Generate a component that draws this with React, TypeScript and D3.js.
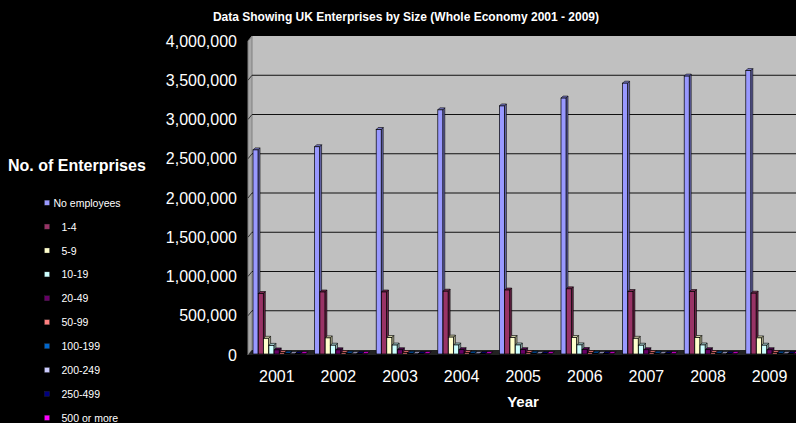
import React from "react";
import * as d3 from "d3";

const years = ["2001", "2002", "2003", "2004", "2005", "2006", "2007", "2008", "2009"];
const seriesNames = ["No employees", "1-4", "5-9", "10-19", "20-49", "50-99", "100-199", "200-249", "250-499", "500 or more"];
const seriesColors = ["#9999FF", "#993366", "#FFFFCC", "#CCFFFF", "#660066", "#FF8080", "#0066CC", "#CCCCFF", "#000080", "#FF00FF"];

const noEmployees = [2600000, 2640000, 2860000, 3110000, 3160000, 3260000, 3450000, 3540000, 3610000];
const size1to4 = [770000, 790000, 790000, 800000, 815000, 830000, 795000, 795000, 775000];
const size5to9 = [200000, 205000, 210000, 215000, 210000, 210000, 200000, 210000, 205000];
const size10to19 = [110000, 112000, 114000, 115000, 115000, 116000, 112000, 115000, 112000];
const size20to49 = [52000, 53000, 54000, 55000, 55000, 56000, 54000, 55000, 54000];
const size50to99 = [18000, 18000, 18500, 18500, 19000, 19000, 18500, 19000, 18500];
const size100to199 = [9000, 9000, 9200, 9300, 9500, 9500, 9300, 9500, 9300];
const size200to249 = [2200, 2200, 2300, 2300, 2300, 2400, 2300, 2400, 2300];
const size250to499 = [4500, 4500, 4600, 4600, 4700, 4700, 4600, 4700, 4600];
const size500plus = [3700, 3700, 3800, 3800, 3800, 3900, 3800, 3900, 3800];

const seriesValues = [noEmployees, size1to4, size5to9, size10to19, size20to49, size50to99, size100to199, size200to249, size250to499, size500plus];
const yTicks = [0, 500000, 1000000, 1500000, 2000000, 2500000, 3000000, 3500000, 4000000];

const W = 796, H = 423;
const DX = 4, DY = -5; // 3D depth offset of back wall
const FONT = "Arial, 'Liberation Sans', sans-serif";

export default function App() {
  const y = d3.scaleLinear().domain([0, 4000000]).range([355, 41]);
  const x = d3.scaleBand<string>().domain(years).range([246, 246 + 9 * 61.6]).padding(0);
  const inner = d3.scaleBand<string>().domain(seriesNames).range([0, 53]).padding(0);
  const fmt = d3.format(",");

  const left = 248; // front left of plot
  const right = 800;
  const bw = inner.bandwidth();
  const bd = 2; // bar depth

  const bars: JSX.Element[] = [];
  years.forEach((yr, yi) => {
    seriesNames.forEach((s, si) => {
      const v = seriesValues[si][yi];
      const x0 = (x(yr) as number) + 7 + (inner(s) as number);
      const x1 = x0 + bw - 0.3;
      const yb = y(0) - 1;
      const yt = y(v) - 1;
      const c = d3.color(seriesColors[si])!;
      const side = c.darker(1.1).toString();
      const top = c.darker(0.6).toString();
      bars.push(
        <g key={yr + s}>
          <polygon points={`${x1},${yb} ${x1 + bd},${yb - bd} ${x1 + bd},${yt - bd} ${x1},${yt}`} fill={side} stroke="#000" strokeWidth={0.6} />
          <polygon points={`${x0},${yt} ${x0 + bd},${yt - bd} ${x1 + bd},${yt - bd} ${x1},${yt}`} fill={top} stroke="#000" strokeWidth={0.6} />
          <rect x={x0} y={yt} width={x1 - x0} height={Math.max(0, yb - yt)} fill={seriesColors[si]} stroke="#000" strokeWidth={0.7} />
        </g>
      );
    });
  });

  return (
    <svg width={W} height={H} style={{ position: "absolute", left: 0, top: 0, background: "#000" }} fontFamily={FONT}>
      <rect x={0} y={0} width={W} height={H} fill="#000" />
      <text x={406} y={21} fill="#fff" fontSize={12} fontWeight="bold" textAnchor="middle">
        Data Showing UK Enterprises by Size (Whole Economy 2001 - 2009)
      </text>

      {/* back wall */}
      <rect x={left + DX} y={y(4000000) + DY} width={right - left - DX} height={y(0) - y(4000000)} fill="#C0C0C0" />
      {/* side wall */}
      <polygon
        points={`${left},${y(0)} ${left},${y(4000000)} ${left + DX},${y(4000000) + DY} ${left + DX},${y(0) + DY}`}
        fill="#A8A8A8" stroke="#808080" strokeWidth={1}
      />
      {/* gridlines */}
      {yTicks.slice(1, -1).map((t) => (
        <g key={t}>
          <line x1={left + DX} x2={right} y1={y(t) + DY} y2={y(t) + DY} stroke="#111" strokeWidth={1.2} />
          <line x1={left} x2={left + DX} y1={y(t)} y2={y(t) + DY} stroke="#333" strokeWidth={1} />
        </g>
      ))}
      {/* floor */}
      <polygon points={`${left},${y(0)} ${left + DX},${y(0) + DY} ${right},${y(0) + DY} ${right},${y(0)}`} fill="#222" />

      {bars}

      {/* y axis labels */}
      {yTicks.map((t) => (
        <text key={t} x={237} y={y(t)} fill="#fff" fontSize={16} textAnchor="end" dominantBaseline="central">
          {fmt(t)}
        </text>
      ))}
      {/* x axis labels */}
      {years.map((yr) => (
        <text key={yr} x={(x(yr) as number) + x.bandwidth() / 2} y={376} fill="#fff" fontSize={16} textAnchor="middle" dominantBaseline="central">
          {yr}
        </text>
      ))}
      <text x={523} y={401} fill="#fff" fontSize={15} fontWeight="bold" textAnchor="middle" dominantBaseline="central">Year</text>
      <text x={8} y={165} fill="#fff" fontSize={16} fontWeight="bold" dominantBaseline="central">No. of Enterprises</text>

      {/* legend */}
      {seriesNames.map((s, i) => {
        const cy = 202.7 + i * 23.9;
        return (
          <g key={s}>
            <rect x={44.5} y={cy - 2.5} width={5} height={5} fill={seriesColors[i]} stroke="#333" strokeWidth={0.3} />
            <text x={i === 0 ? 53.5 : 61.5} y={cy} fill="#fff" fontSize={10.5} dominantBaseline="central">{s}</text>
          </g>
        );
      })}
    </svg>
  );
}
